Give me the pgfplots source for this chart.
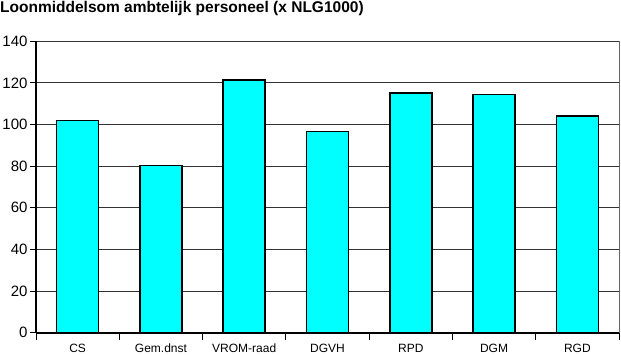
\documentclass[border=0pt]{standalone}
\usepackage{fontspec}
\setmainfont{Liberation Sans}
\usepackage{pgfplots}
\pgfplotsset{compat=1.18}
\definecolor{barcyan}{RGB}{0,255,255}
\begin{document}
\begin{tikzpicture}[x=1pt,y=1pt]
\useasboundingbox (0,0) rectangle (621,355);
\node[anchor=north west, inner sep=0pt, font=\fontsize{15.5}{17}\selectfont\bfseries] at (0,353.5) {Loonmiddelsom ambtelijk personeel (x NLG1000)};
\begin{axis}[
  at={(36pt,22.3pt)}, anchor=south west,
  scale only axis, width=583pt, height=291.4pt,
  xmin=-0.5, xmax=6.5, ymin=0, ymax=140,
  axis lines=left,
  axis line style={-, line width=2pt},
  ytick={0,20,...,140},
  xtick={0,...,6},
  xticklabels={CS,Gem.dnst,VROM-raad,DGVH,RPD,DGM,RGD},
  minor xtick={-0.5,0.5,...,6.5},
  x tick style={draw=none},
  minor x tick style={draw=black, line width=0.8pt},
  minor tick length=7pt,
  y tick style={black, line width=1pt},
  major tick length=6pt,
  tick align=outside,
  ymajorgrids,
  major grid style={black!80, line width=1pt},
  yticklabel style={font=\fontsize{15}{16}\selectfont, xshift=1pt},
  xticklabel style={font=\fontsize{12}{13}\selectfont, yshift=-2pt},
  /pgf/number format/assume math mode=true,
  ybar, bar width=42pt, bar shift=0pt,
  clip=false,
]
\addplot[fill=barcyan, draw=black, line width=1.6pt] coordinates {
  (0,102) (1,80.3) (2,121.3) (3,96.6) (4,115.2) (5,114.4) (6,104)
};
\draw[black!60, line width=1pt] (rel axis cs:1,0) -- (rel axis cs:1,1);
\end{axis}
\end{tikzpicture}
\end{document}
